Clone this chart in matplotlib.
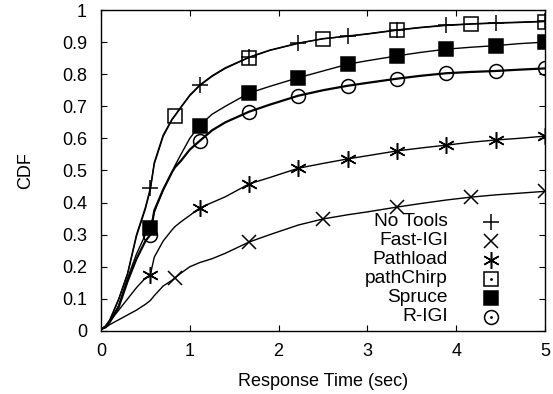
import numpy as np
import matplotlib
matplotlib.use("Agg")
import matplotlib.pyplot as plt

plt.rcParams['font.family'] = ['Liberation Sans', 'DejaVu Sans']

# response time grid (sec)
x = [0, 0.05, 0.1, 0.2, 0.3, 0.4, 0.5, 0.556, 0.6, 0.7, 0.8, 0.833, 0.9, 1.0, 1.111,
     1.25, 1.4, 1.667, 1.9, 2.222, 2.5, 2.778, 3.0, 3.333, 3.6, 3.889, 4.167, 4.444, 4.7, 5.0]

no_tools = [0.005, 0.015, 0.035, 0.10, 0.18, 0.30, 0.385, 0.445, 0.525, 0.61, 0.66, 0.672, 0.698,
            0.735, 0.766, 0.795, 0.82, 0.853, 0.875, 0.897, 0.91, 0.919, 0.926, 0.938, 0.946,
            0.953, 0.957, 0.96, 0.962, 0.965]
fast_igi = [0.005, 0.01, 0.02, 0.035, 0.05, 0.065, 0.083, 0.095, 0.11, 0.14, 0.158, 0.165, 0.18,
            0.20, 0.213, 0.225, 0.242, 0.277, 0.30, 0.33, 0.349, 0.362, 0.371, 0.386, 0.397,
            0.408, 0.417, 0.424, 0.429, 0.435]
pathload = [0.005, 0.015, 0.03, 0.065, 0.10, 0.135, 0.165, 0.175, 0.23, 0.28, 0.315, 0.325, 0.34,
            0.36, 0.383, 0.40, 0.418, 0.458, 0.478, 0.507, 0.522, 0.536, 0.546, 0.561, 0.57,
            0.579, 0.588, 0.595, 0.60, 0.607]
pathchirp = [0.005, 0.014, 0.034, 0.098, 0.178, 0.295, 0.38, 0.44, 0.52, 0.606, 0.658, 0.67,
             0.696, 0.733, 0.764, 0.793, 0.818, 0.852, 0.874, 0.896, 0.911, 0.918, 0.925, 0.937,
             0.945, 0.952, 0.956, 0.959, 0.961, 0.964]
spruce = [0.005, 0.012, 0.03, 0.08, 0.165, 0.24, 0.30, 0.32, 0.37, 0.44, 0.495, 0.515, 0.55,
          0.60, 0.64, 0.675, 0.70, 0.741, 0.762, 0.789, 0.81, 0.831, 0.842, 0.857, 0.868,
          0.878, 0.884, 0.889, 0.895, 0.90]
r_igi = [0.005, 0.012, 0.028, 0.075, 0.155, 0.225, 0.28, 0.30, 0.375, 0.44, 0.495, 0.51, 0.53,
         0.565, 0.592, 0.625, 0.65, 0.683, 0.705, 0.733, 0.75, 0.764, 0.773, 0.786, 0.795,
         0.803, 0.807, 0.81, 0.814, 0.818]

# where each tool's point symbols sit
marks_a = [0.556, 1.111, 1.667, 2.222, 2.778, 3.333, 3.889, 4.444, 5.0]
marks_b = [0.833, 1.667, 2.5, 3.333, 4.167, 5.0]

names = ['No Tools', 'Fast-IGI', 'Pathload', 'pathChirp', 'Spruce', 'R-IGI']
series = [no_tools, fast_igi, pathload, pathchirp, spruce, r_igi]
marks = [marks_a, marks_b, marks_a, marks_b, marks_a, marks_a]
styles = [
    dict(marker='+', ms=11, mfc='none'),
    dict(marker='x', ms=10, mfc='none'),
    dict(marker=(6, 2, 0), ms=12, mfc='none'),
    dict(marker='s', ms=10, mfc='none'),
    dict(marker='s', ms=10, mfc='black'),
    dict(marker='o', ms=10, mfc='none'),
]
widths = [1.0, 1.0, 1.0, 1.0, 1.0, 1.6]

fig = plt.figure(figsize=(5.53, 3.94), dpi=100)
ax = fig.add_axes([0.1826, 0.160, 0.8029, 0.8146])

xs = np.array(x)
for name, ys, mk, st, lw in zip(names, series, marks, styles, widths):
    idx = [int(np.argmin(np.abs(xs - m))) for m in mk]
    ax.plot(x, ys, color='black', lw=lw, markevery=idx, mec='black', mew=1.1, **st)

# key: right-aligned names, symbol to the right
for i, (name, st) in enumerate(zip(names, styles)):
    yk = 0.3396 - i * 0.0592
    ax.text(0.7815, yk, name, transform=ax.transAxes, ha='right', va='center', fontsize=13.8)
    ax.plot([0.878], [yk], transform=ax.transAxes, color='black', ls='none', mec='black',
            mew=1.1, clip_on=False, **st)
    if name in ('pathChirp', 'R-IGI'):
        ax.plot([0.878], [yk], transform=ax.transAxes, marker='.', ms=2, color='black',
                ls='none', clip_on=False)

ax.set_xlim(0, 5)
ax.set_ylim(0, 1)
ax.set_xticks(np.arange(0, 6, 1))
ax.set_yticks(np.arange(0, 1.01, 0.1))
ax.set_yticklabels(['%g' % round(v, 1) for v in np.arange(0, 1.01, 0.1)])
ax.tick_params(direction='in', top=True, right=True, length=4, width=0.8, labelsize=13)
ax.tick_params(axis='y', pad=10)
ax.tick_params(axis='x', pad=9)
for s in ax.spines.values():
    s.set_linewidth(1.0)
ax.set_xlabel('Response Time (sec)', fontsize=13, labelpad=9)
ax.set_ylabel('CDF', fontsize=13, labelpad=20)

fig.savefig('out.png', dpi=100)
